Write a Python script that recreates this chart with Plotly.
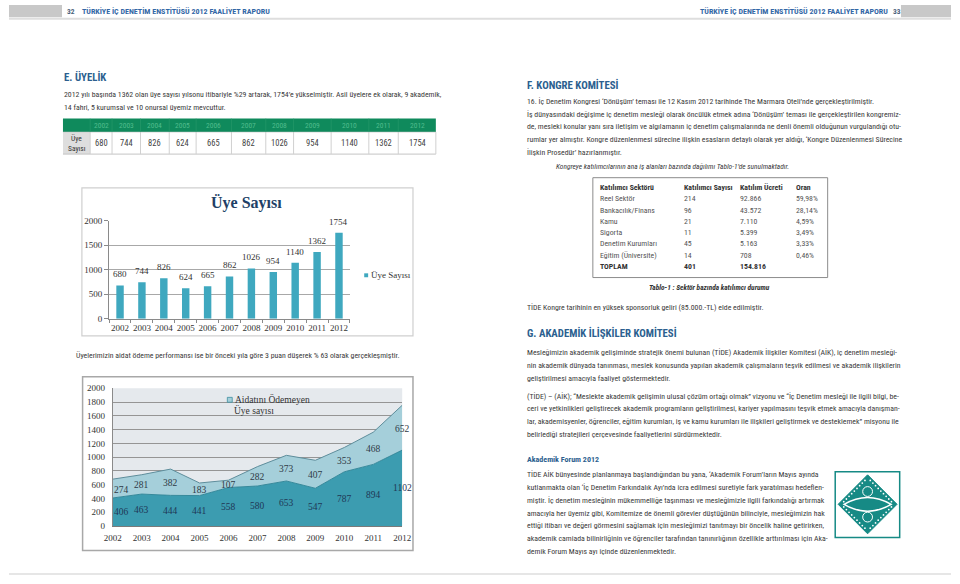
import plotly.graph_objects as go

W, H = 960, 584
def X(px): return px / W
def Y(py): return 1 - py / H

SANS = "Liberation Sans Narrow, Arial Narrow, Roboto Condensed, DejaVu Sans Condensed, sans-serif"
SERIF = "Liberation Serif, Times New Roman, DejaVu Serif, serif"
BLUE = "#2c5f8f"
TXT = "#3a3a3a"
BODY = 7.8
HEAD = 10.8

# ---------------- data ----------------
years = ["2002", "2003", "2004", "2005", "2006", "2007", "2008", "2009", "2010", "2011", "2012"]
members = [680, 744, 826, 624, 665, 862, 1026, 954, 1140, 1362, 1754]
paid = [406, 463, 444, 441, 558, 580, 653, 547, 787, 894, 1102]
unpaid = [274, 281, 382, 183, 107, 282, 373, 407, 353, 468, 652]

sectors = ["Reel Sektör", "Bankacılık/Finans", "Kamu", "Sigorta", "Denetim Kurumları", "Eğitim (Üniversite)", "TOPLAM"]
participants = ["214", "96", "21", "11", "45", "14", "401"]
fees = ["92.866", "43.572", "7.110", "5.399", "5.163", "708", "154.816"]
shares = ["59,98%", "28,14%", "4,59%", "3,49%", "3,33%", "0,46%", ""]
table_head = ["Katılımcı Sektörü", "Katılımcı Sayısı", "Katılım Ücreti", "Oran"]

header_title = "TÜRKİYE İÇ DENETİM ENSTİTÜSÜ 2012 FAALİYET RAPORU"

left_para = [
    "2012 yılı başında 1362 olan üye sayısı yılsonu itibariyle %29 artarak, 1754’e yükselmiştir. Asil üyelere ek olarak, 9 akademik,",
    "14 fahri, 5 kurumsal ve 10 onursal üyemiz mevcuttur.",
]
left_para2 = "Üyelerimizin aidat ödeme performansı ise bir önceki yıla göre 3 puan düşerek % 63 olarak gerçekleşmiştir."

f_para = [
    "16. İç Denetim Kongresi ‘Dönüşüm’ teması ile 12 Kasım 2012 tarihinde The Marmara Oteli’nde gerçekleştirilmiştir.",
    "İş dünyasındaki değişime iç denetim mesleği olarak öncülük etmek adına ‘Dönüşüm’ teması ile gerçekleştirilen kongremiz-",
    "de, mesleki konular yanı sıra iletişim ve algılamanın iç denetim çalışmalarında ne denli önemli olduğunun vurgulandığı otu-",
    "rumlar yer almıştır. Kongre düzenlenmesi sürecine ilişkin esasların detaylı olarak yer aldığı, ‘Kongre Düzenlenmesi Sürecine",
    "İlişkin Prosedür’ hazırlanmıştır.",
]
g_para1 = [
    "Mesleğimizin akademik gelişiminde stratejik önemi bulunan (TİDE) Akademik İlişkiler Komitesi (AİK), iç denetim mesleği-",
    "nin akademik dünyada tanınması, meslek konusunda yapılan akademik çalışmaların teşvik edilmesi ve akademik ilişkilerin",
    "geliştirilmesi amacıyla faaliyet göstermektedir.",
]
g_para2 = [
    "(TİDE) – (AİK); “Meslekte akademik gelişimin ulusal çözüm ortağı olmak” vizyonu ve “İç Denetim mesleği ile ilgili bilgi, be-",
    "ceri ve yetkinlikleri geliştirecek akademik programların geliştirilmesi, kariyer yapılmasını teşvik etmek amacıyla danışman-",
    "lar, akademisyenler, öğrenciler, eğitim kurumları, iş ve kamu kurumları ile ilişkileri geliştirmek ve desteklemek” misyonu ile",
    "belirlediği stratejileri çerçevesinde faaliyetlerini sürdürmektedir.",
]
forum_para = [
    "TİDE AİK bünyesinde planlanmaya başlandığından bu yana, ‘Akademik Forum’ların Mayıs ayında",
    "kutlanmakta olan ‘İç Denetim Farkındalık Ayı’nda icra edilmesi suretiyle fark yaratılması hedeflen-",
    "miştir. İç denetim mesleğinin mükemmelliğe taşınması ve mesleğimizle ilgili farkındalığı artırmak",
    "amacıyla her üyemiz gibi, Komitemize de önemli görevler düştüğünün bilinciyle, mesleğimizin hak",
    "ettiği itibarı ve değeri görmesini sağlamak için mesleğimizi tanıtmayı bir öncelik haline getirirken,",
    "akademik camiada bilinirliğinin ve öğrenciler tarafından tanınırlığının özellikle arttırılması için Aka-",
    "demik Forum Mayıs ayı içinde düzenlenmektedir.",
]

# ---------------- figure ----------------
fig = go.Figure()
ann = []
shapes = []

def text(x, y, s, size=BODY, color=TXT, family=SANS, anchor="left", weight="normal", style="normal", **kw):
    ann.append(dict(x=X(x), y=Y(y), xref="paper", yref="paper", text=s, showarrow=False,
                    xanchor=anchor, yanchor="middle", borderpad=0,
                    font=dict(family=family, size=size, color=color, weight=weight, style=style), **kw))

def rect(x0, y0, x1, y1, fill=None, line=None, lw=1, layer="below"):
    shapes.append(dict(type="rect", xref="paper", yref="paper", x0=X(x0), x1=X(x1), y0=Y(y1), y1=Y(y0),
                       fillcolor=fill or "rgba(0,0,0,0)", line=dict(color=line or "rgba(0,0,0,0)", width=lw if line else 0),
                       layer=layer))

def hline(x0, x1, y, color, w=1, layer="below"):
    shapes.append(dict(type="line", xref="paper", yref="paper", x0=X(x0), x1=X(x1), y0=Y(y), y1=Y(y),
                       line=dict(color=color, width=w), layer=layer))

def vline(x, y0, y1, color, w=1, layer="below"):
    shapes.append(dict(type="line", xref="paper", yref="paper", x0=X(x), x1=X(x), y0=Y(y0), y1=Y(y1),
                       line=dict(color=color, width=w), layer=layer))

# ---- page headers ----
rect(0, 0, 54, 12.5, fill="#c8c8c8")
rect(909, 0, 960, 12.5, fill="#c8c8c8")
hline(0, 960, 14, "#dedede", 2)
hline(0, 960, 579, "#e6e6e6", 2)
text(58, 6.5, "32", size=7.5, color="#4a5f7a", weight="bold")
text(73, 6.5, header_title, size=8, color="#3367a6", weight="bold")
text(897, 6.5, header_title, size=8, color="#3367a6", weight="bold", anchor="right")
text(900, 6.5, "33", size=7.5, color="#4a5f7a", weight="bold")

# ---- left page ----
text(55, 73, "E. ÜYELİK", size=HEAD, color=BLUE, weight="bold")
for i, s in enumerate(left_para):
    text(55, 91 + 13 * i, s)

# members table
col_edges = [82.7, 105, 134, 163.3, 190.7, 226.7, 261.7, 290, 328.3, 366.7, 396.7, 435]
rect(55, 115.5, 435, 129.3, fill="#0f8a5c")
rect(55, 129.3, 82.7, 151.7, fill="#dedede")
hline(55, 435, 151.7, "#c4c4c4", 1)
hline(55, 435, 129.3, "#c4c4c4", 0.6)
vline(435, 129.3, 151.7, "#d0d0d0", 1)
for i, yr in enumerate(years):
    cx = (col_edges[i] + col_edges[i + 1]) / 2
    vline(col_edges[i], 129.3, 151.7, "#d0d0d0", 1)
    vline(col_edges[i], 115.5, 129.3, "#2a9a6c", 0.6)
    text(cx, 122.5, yr, size=7.5, color="#4fbc8c", anchor="center")
    text(cx, 140.5, str(members[i]), size=8.5, color="#444444", anchor="center")
text(69, 136, "Üye", size=7.5, color="#333333", anchor="center")
text(69, 145.5, "Sayısı", size=7.5, color="#333333", anchor="center")

# chart 1 box
rect(74.3, 186, 411.7, 336.7, fill="#ffffff", line="#cfcfcf", lw=1.2)
text(242, 201, "Üye Sayısı", size=16, color="#213f66", family=SERIF, anchor="center", weight="bold")
rect(362, 273, 366, 277, fill="#3fa8bf")
text(368, 275, "Üye Sayısı", size=9, color="#333333", family=SERIF)

fig.add_trace(go.Bar(
    x=years, y=members, xaxis="x", yaxis="y", width=0.34,
    marker=dict(color="#3fa8bf", line=dict(width=0)),
    showlegend=False, hoverinfo="x+y", name="Üye Sayısı"))
for i, yr in enumerate(years):
    # category axis: annotation x is the category index
    ann.append(dict(x=i, y=members[i], xref="x", yref="y", text=str(members[i]), showarrow=False,
                    yanchor="bottom", yshift=4, font=dict(family=SERIF, size=9, color="#333333")))

# chart 2 box
text(67, 357, left_para2)
rect(75, 378.3, 411.7, 555, fill="#ffffff", line="#a8a8a8", lw=1.5)
rect(105.7, 390, 400.7, 530, fill="#e5e9ed")

fig.add_trace(go.Scatter(
    x=[int(y) for y in years], y=paid, xaxis="x2", yaxis="y2", stackgroup="s",
    mode="lines", line=dict(color="#36899b", width=1), fillcolor="#3c9cb0",
    showlegend=False, name="Aidatını Ödeyen"))
fig.add_trace(go.Scatter(
    x=[int(y) for y in years], y=unpaid, xaxis="x2", yaxis="y2", stackgroup="s",
    mode="lines", line=dict(color="#5e8d9b", width=1), fillcolor="#a5cfda",
    showlegend=False, name="Aidatını Ödemeyen Üye sayısı"))

for i, yr in enumerate(years):
    xs = 9 if i == 0 else 0
    ann.append(dict(x=int(yr), y=paid[i] / 2, xref="x2", yref="y2", text=str(paid[i]), showarrow=False,
                    xshift=xs, font=dict(family=SERIF, size=9.5, color="#1f3756")))
    ann.append(dict(x=int(yr), y=paid[i] + unpaid[i] / 2 - 15, xref="x2", yref="y2", text=str(unpaid[i]),
                    showarrow=False, xshift=xs, font=dict(family=SERIF, size=9.5, color="#2f3a46")))

rect(222.5, 399.2, 227.5, 404.2, fill="#a5cfda", line="#3d8ea0", lw=0.8, layer="above")
text(229, 401.7, "Aidatını Ödemeyen", size=9.5, color="#333333", family=SERIF)
text(228, 412.5, "Üye sayısı", size=9.5, color="#333333", family=SERIF)

# ---- right page ----
text(527, 81, "F. KONGRE KOMİTESİ", size=HEAD, color=BLUE, weight="bold")
for i, s in enumerate(f_para):
    text(527, 98 + 13 * i, s)
text(676, 164, "Kongreye katılımcılarının ana iş alanları bazında dağılımı Tablo-1’de sunulmaktadır.",
     size=7.4, style="italic", anchor="center")

# sector table
rect(595, 175.7, 834.3, 277.3, fill="#ffffff", line="#8c8c8c", lw=1)
col_x = [601, 686.7, 744, 801]
for j, h in enumerate(table_head):
    text(col_x[j], 185.7, h, size=7.8, color="#333333", weight="bold")
row_y0 = 197.3
for i in range(len(sectors)):
    yy = row_y0 + 11.45 * i
    wt = "bold" if i == len(sectors) - 1 else "normal"
    col = "#333333" if wt == "bold" else "#555555"
    for j, v in enumerate([sectors[i], participants[i], fees[i], shares[i]]):
        if v:
            text(col_x[j], yy, v, size=7.8, color=col, weight=wt)
text(714, 287, "Tablo-1 : Sektör bazında katılımcı durumu", size=7.4, style="italic", weight="bold",
     color="#333333", anchor="center")
text(527, 308, "TİDE Kongre tarihinin en yüksek sponsorluk geliri (85.000.-TL) elde edilmiştir.")

text(527, 334, "G. AKADEMİK İLİŞKİLER KOMİTESİ", size=HEAD, color=BLUE, weight="bold")
for i, s in enumerate(g_para1):
    text(527, 354 + 13 * i, s)
for i, s in enumerate(g_para2):
    text(527, 398 + 13 * i, s)
text(527, 462, "Akademik Forum 2012", size=8, color=BLUE, weight="bold")
for i, s in enumerate(forum_para):
    text(527, 478 + 13 * i, s)

# logo
TEAL = "#168a85"
rect(842, 475, 907.7, 541.7, fill="#ffffff", line=TEAL, lw=1.5, layer="above")
def P(x, y): return f"{X(x)},{Y(y)}"
shapes.append(dict(type="path", xref="paper", yref="paper", layer="above",
                   path=f"M{P(875,478)} L{P(905,508)} L{P(875,538)} L{P(845,508)} Z",
                   fillcolor=TEAL, line=dict(color=TEAL, width=1)))
shapes.append(dict(type="path", xref="paper", yref="paper", layer="above",
                   path=f"M{P(851,508)} Q{P(875,494)} {P(899,508)} Q{P(875,522)} {P(851,508)} Z",
                   fillcolor=TEAL, line=dict(color="#ffffff", width=1.5)))
for cy in (495, 521):
    shapes.append(dict(type="circle", xref="paper", yref="paper", layer="above",
                       x0=X(870), x1=X(880), y0=Y(cy + 5), y1=Y(cy - 5),
                       fillcolor=TEAL, line=dict(color="#ffffff", width=1)))
for k in range(1, 10):
    t = k / 10
    for (ax, ay, bx, by) in [(875, 481, 902, 508), (902, 508, 875, 535), (875, 535, 848, 508), (848, 508, 875, 481)]:
        px_ = ax + (bx - ax) * t
        py_ = ay + (by - ay) * t
        shapes.append(dict(type="circle", xref="paper", yref="paper", layer="above",
                           x0=X(px_ - 0.9), x1=X(px_ + 0.9), y0=Y(py_ + 0.9), y1=Y(py_ - 0.9),
                           fillcolor="#ffffff", line=dict(width=0)))

fig.update_layout(
    width=W, height=H, margin=dict(l=0, r=0, t=0, b=0),
    paper_bgcolor="#ffffff", plot_bgcolor="rgba(0,0,0,0)",
    showlegend=False, bargap=0.6,
    xaxis=dict(domain=[X(102), X(348)], anchor="y", type="category", tickangle=0,
               categoryorder="array", categoryarray=years,
               showline=True, linecolor="#8a8a8a", linewidth=1, ticks="outside", tickson="boundaries",
               ticklen=3, tickcolor="#8a8a8a", showgrid=False,
               tickfont=dict(family=SERIF, size=9, color="#333333")),
    yaxis=dict(domain=[Y(319.3), Y(219.3)], anchor="x", range=[0, 2000], tickvals=[0, 500, 1000, 1500, 2000],
               showline=True, linecolor="#8a8a8a", linewidth=1, ticks="outside", ticklen=4, tickcolor="#8a8a8a",
               showgrid=True, gridcolor="#a8a8a8", gridwidth=1.2, zeroline=False,
               tickfont=dict(family=SERIF, size=9, color="#333333")),
    xaxis2=dict(domain=[X(105.7), X(400.7)], anchor="y2", range=[2002, 2012], tickangle=0,
                tickvals=[int(y) for y in years], ticktext=years,
                showline=True, linecolor="#7a7a7a", linewidth=1, ticks="outside", ticklen=3,
                tickcolor="rgba(0,0,0,0)", showgrid=False, zeroline=False,
                tickfont=dict(family=SERIF, size=9, color="#333333")),
    yaxis2=dict(domain=[Y(530), Y(390)], anchor="x2", range=[0, 2000], dtick=200,
                showline=True, linecolor="#8a8a8a", linewidth=1, ticks="outside", ticklen=5,
                tickcolor="rgba(0,0,0,0)", showgrid=True, gridcolor="#959595", gridwidth=1.2, zeroline=False,
                tickfont=dict(family=SERIF, size=9, color="#333333")),
    annotations=ann, shapes=shapes,
)

fig.write_html("out.html", config={"displayModeBar": False},
               post_script="document.body.style.margin='0';document.body.style.overflow='hidden';")
